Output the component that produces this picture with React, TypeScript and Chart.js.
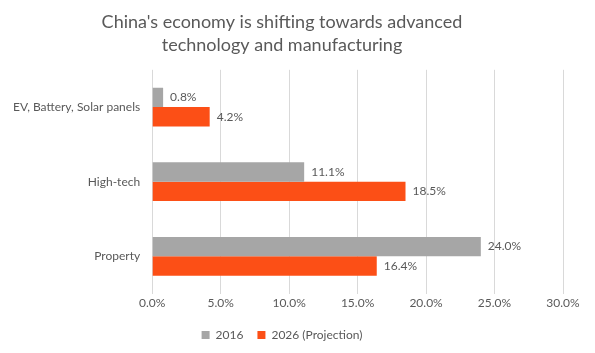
import React, { useEffect, useRef } from "react";
import { Chart, registerables } from "chart.js";
Chart.register(...registerables);

const categories = ["EV, Battery, Solar panels", "High-tech", "Property"];
const series2016 = [0.8, 11.1, 24.0];
const series2026 = [4.2, 18.5, 16.4];
const seriesNames = ["2016", "2026 (Projection)"];
const xTicks = [0, 5, 10, 15, 20, 25, 30];

const TEXT = "#595959";
const FONT = "Lato, 'Open Sans', sans-serif";

const labelPlugin = {
  id: "barLabels",
  afterDatasetsDraw(chart: any) {
    const ctx = chart.ctx;
    ctx.save();
    ctx.fillStyle = TEXT;
    ctx.font = `12px ${FONT}`;
    ctx.textBaseline = "middle";
    ctx.textAlign = "left";
    chart.data.datasets.forEach((ds: any, i: number) => {
      const meta = chart.getDatasetMeta(i);
      meta.data.forEach((bar: any, j: number) => {
        ctx.fillText(ds.data[j].toFixed(1) + "%", bar.x + 7, bar.y);
      });
    });
    ctx.restore();
  },
};

export default function App() {
  const ref = useRef<HTMLCanvasElement>(null);
  useEffect(() => {
    document.body.style.margin = "0";
    const chart = new Chart(ref.current!, {
      type: "bar",
      data: {
        labels: categories,
        datasets: [
          { label: seriesNames[0], data: series2016, backgroundColor: "#a6a6a6" },
          { label: seriesNames[1], data: series2026, backgroundColor: "#fc4f16" },
        ],
      },
      options: {
        indexAxis: "y",
        animation: false,
        responsive: false,
        datasets: { bar: { categoryPercentage: 0.52, barPercentage: 1 } },
        layout: { padding: { left: 1, right: 32, top: 0, bottom: 2 } },
        scales: {
          x: {
            min: 0,
            max: 30,
            afterBuildTicks: (axis: any) => {
              axis.ticks = xTicks.map((v) => ({ value: v }));
            },
            afterFit: (axis: any) => {
              axis.height += 3;
            },
            ticks: {
              color: TEXT,
              font: { family: FONT, size: 12 },
              callback: (v: any) => Number(v).toFixed(1) + "%",
              padding: 2,
            },
            grid: { color: "#d9d9d9", drawTicks: false },
            border: { display: false },
          },
          y: {
            ticks: { color: TEXT, font: { family: FONT, size: 12 }, padding: 12 },
            grid: { display: false, drawTicks: false },
            border: { display: false },
          },
        },
        plugins: {
          title: {
            display: true,
            text: ["China's economy is shifting towards advanced", "technology and manufacturing"],
            color: TEXT,
            font: { family: FONT, size: 18, weight: "normal", lineHeight: 1.3 },
            padding: { top: 10, bottom: 13 },
          },
          legend: {
            position: "bottom",
            labels: {
              color: TEXT,
              font: { family: FONT, size: 12 },
              boxWidth: 8,
              boxHeight: 8,
              padding: 14,
            },
          },
          tooltip: { enabled: false },
        },
      },
      plugins: [labelPlugin],
    });
    return () => chart.destroy();
  }, []);
  return (
    <div style={{ width: 595, height: 353 }}>
      <canvas ref={ref} width={595} height={353} />
    </div>
  );
}
